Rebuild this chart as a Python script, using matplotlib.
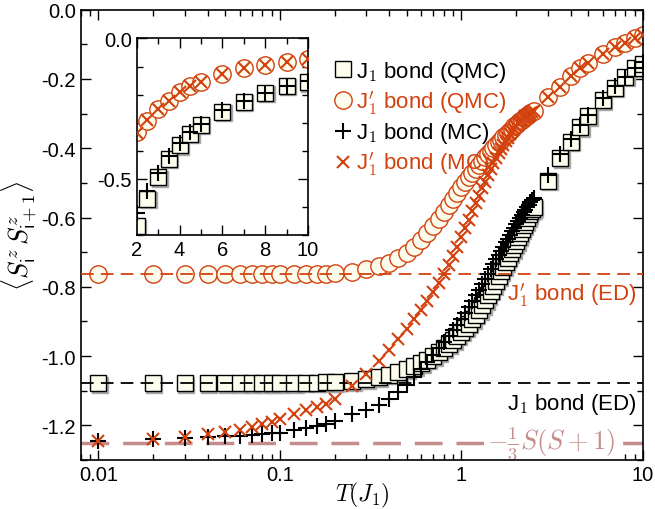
import numpy as np
import matplotlib.pyplot as plt
from matplotlib.transforms import offset_copy
from matplotlib.ticker import MultipleLocator, FixedLocator, FixedFormatter, NullFormatter, LogLocator

plt.rcParams['font.family'] = ['Liberation Sans', 'DejaVu Sans']
plt.rcParams['mathtext.fontset'] = 'cm'
plt.rcParams['axes.unicode_minus'] = False

# temperatures (same grid for QMC and MC)
T = [0.01, 0.02, 0.03, 0.04, 0.05, 0.06, 0.07, 0.08, 0.09, 0.10,
     0.12, 0.14, 0.16, 0.18, 0.20,
     0.25, 0.30, 0.35, 0.40, 0.45, 0.50, 0.55, 0.60, 0.65, 0.70,
     0.75, 0.80, 0.85, 0.90, 0.95, 1.00, 1.05, 1.10, 1.15, 1.20,
     1.25, 1.30, 1.35, 1.40, 1.45, 1.50, 1.55, 1.60, 1.65, 1.70,
     1.75, 1.80, 1.85, 1.90, 1.95, 2.00, 2.05, 2.10, 2.15, 2.20,
     2.25, 2.30, 2.35, 2.40, 2.45, 2.50,
     3.0, 3.5, 4.0, 4.5, 5.0, 6.0, 7.0, 8.0, 9.0, 10.0]

# J1 bond, QMC (squares)
j1_qmc = [-1.078, -1.078, -1.078, -1.078, -1.078, -1.078, -1.078, -1.078, -1.078, -1.078,
          -1.078, -1.077, -1.077, -1.076, -1.075,
          -1.072, -1.067, -1.061, -1.054, -1.046, -1.038, -1.029, -1.020, -1.010, -1.000,
          -0.989, -0.978, -0.966, -0.954, -0.942, -0.930, -0.918, -0.906, -0.893, -0.880,
          -0.867, -0.853, -0.839, -0.825, -0.811, -0.797, -0.783, -0.769, -0.755, -0.742,
          -0.729, -0.716, -0.703, -0.691, -0.679, -0.668, -0.656, -0.645, -0.634, -0.623,
          -0.612, -0.601, -0.591, -0.581, -0.576, -0.571,
          -0.494, -0.429, -0.381, -0.340, -0.308, -0.261, -0.225, -0.194, -0.168, -0.156]

# J1' bond, QMC (circles)
j1p_qmc = [-0.764, -0.764, -0.764, -0.764, -0.764, -0.764, -0.764, -0.764, -0.764, -0.764,
           -0.764, -0.763, -0.763, -0.762, -0.761,
           -0.757, -0.750, -0.741, -0.730, -0.716, -0.701, -0.685, -0.665, -0.645, -0.625,
           -0.604, -0.584, -0.564, -0.546, -0.529, -0.513, -0.498, -0.484, -0.471, -0.459,
           -0.447, -0.436, -0.426, -0.416, -0.407, -0.398, -0.390, -0.382, -0.375, -0.368,
           -0.361, -0.355, -0.349, -0.343, -0.337, -0.332, -0.327, -0.322, -0.318, -0.314,
           -0.310, -0.306, -0.302, -0.299, -0.296, -0.293,
           -0.251, -0.222, -0.192, -0.168, -0.154, -0.127, -0.107, -0.095, -0.083, -0.073]

# J1 bond, classical MC (plus)
j1_mc = [-1.245, -1.240, -1.237, -1.235, -1.232, -1.230, -1.228, -1.226, -1.223, -1.221,
         -1.214, -1.208, -1.202, -1.195, -1.188,
         -1.168, -1.157, -1.142, -1.124, -1.104, -1.083, -1.060, -1.037, -1.016, -0.996,
         -0.977, -0.960, -0.943, -0.926, -0.909, -0.892, -0.875, -0.858, -0.841, -0.825,
         -0.809, -0.793, -0.778, -0.763, -0.749, -0.735, -0.721, -0.708, -0.696, -0.684,
         -0.672, -0.661, -0.650, -0.640, -0.630, -0.620, -0.611, -0.602, -0.593, -0.585,
         -0.577, -0.570, -0.563, -0.556, -0.549, -0.543,
         -0.478, -0.418, -0.372, -0.333, -0.303, -0.255, -0.221, -0.193, -0.168, -0.150]

# J1' bond, classical MC (crosses)
j1p_mc = [-1.245, -1.238, -1.233, -1.226, -1.218, -1.212, -1.204, -1.197, -1.190, -1.183,
          -1.168, -1.157, -1.147, -1.137, -1.124,
          -1.087, -1.052, -1.015, -0.982, -0.952, -0.923, -0.894, -0.866, -0.840, -0.815,
          -0.790, -0.764, -0.738, -0.711, -0.684, -0.657, -0.631, -0.606, -0.582, -0.559,
          -0.537, -0.516, -0.496, -0.477, -0.460, -0.444, -0.429, -0.415, -0.402, -0.390,
          -0.379, -0.369, -0.360, -0.351, -0.343, -0.335, -0.328, -0.322, -0.317, -0.312,
          -0.308, -0.304, -0.300, -0.297, -0.294, -0.291,
          -0.251, -0.222, -0.192, -0.168, -0.154, -0.127, -0.107, -0.095, -0.083, -0.073]

# exact diagonalisation ground state values and classical limit
ed_j1 = -1.078
ed_j1p = -0.764
classical = -1.25

# temperatures shown in the inset
T_inset = [2.0, 2.5, 3.0, 3.5, 4.0, 4.5, 5.0, 6.0, 7.0, 8.0, 9.0, 10.0]

orange = '#d2410e'
cream = '#fdfdee'
pink = '#c58c8c'

fig = plt.figure(figsize=(6.55, 5.10), dpi=100)
ax = fig.add_axes([0.1232, 0.0961, 0.8585, 0.8829])

T_arr = np.array(T)
sets = [
    (np.array(j1_qmc), dict(marker='s', ms=11, mfc=cream, mec='black', mew=1.0, zorder=2),
     r'J$_\mathsf{1}$ bond (QMC)', 'black'),
    (np.array(j1p_qmc), dict(marker='o', ms=12.5, mfc=cream, mec=orange, mew=1.0, zorder=2),
     r"J$^{\prime}_\mathsf{1}$ bond (QMC)", orange),
    (np.array(j1_mc), dict(marker='+', ms=11, mec='black', mew=1.5, zorder=4),
     r'J$_\mathsf{1}$ bond (MC)', 'black'),
    (np.array(j1p_mc), dict(marker='x', ms=8, mec=orange, mew=1.5, zorder=4),
     r"J$^{\prime}_\mathsf{1}$ bond (MC)", orange),
]


def draw(a, x, idx=slice(None)):
    # grey drop shadow under the squares
    shadow = offset_copy(a.transData, fig=fig, x=1.5, y=-1.5, units='dots')
    a.plot(x, sets[0][0][idx], ls='none', marker='s', ms=11, mfc='#a8a8a8', mec='#a8a8a8',
           mew=1.0, zorder=1.9, transform=shadow)
    for vals, style, lab, col in sets:
        a.plot(x, vals[idx], ls='none', label=lab, **style)


draw(ax, T_arr)

ax.axhline(ed_j1, color='black', ls=(0, (7, 4)), lw=1.3, zorder=3)
ax.axhline(ed_j1p, color=orange, ls=(0, (7, 4)), lw=1.3, zorder=3)
ax.axhline(classical, color=pink, ls=(0, (8, 4)), lw=2.5, zorder=1)

ax.set_xscale('log')
ax.set_xlim(0.008, 10)
ax.set_ylim(-1.3, 0.0)
ax.xaxis.set_major_locator(FixedLocator([0.01, 0.1, 1, 10]))
ax.xaxis.set_major_formatter(FixedFormatter(['0.01', '0.1', '1', '10']))
ax.xaxis.set_minor_locator(LogLocator(base=10, subs=np.arange(2, 10)))
ax.xaxis.set_minor_formatter(NullFormatter())
ax.yaxis.set_major_locator(MultipleLocator(0.2))
ax.yaxis.set_minor_locator(MultipleLocator(0.1))
ax.yaxis.set_major_formatter(plt.FuncFormatter(lambda v, p: f'{v:.1f}' if abs(v) > 1e-9 else '0.0'))
ax.tick_params(which='both', direction='in', top=True, right=True, labelsize=14.5, width=1.0)
ax.tick_params(which='major', length=7)
ax.tick_params(which='minor', length=4)
for s in ax.spines.values():
    s.set_linewidth(1.2)

ax.set_xlabel(r'$T(J_1)$', fontsize=17, labelpad=-3)
ax.set_ylabel(r'$\langle S^z_\mathsf{i}\, S^z_\mathsf{i+1}\rangle$', fontsize=19, labelpad=2)

ax.text(0.989, ed_j1p - 0.058, r"J$^{\prime}_\mathsf{1}$ bond (ED)", color=orange, fontsize=16,
        ha='right', va='center', transform=ax.get_yaxis_transform())
ax.text(0.989, ed_j1 - 0.058, r'J$_\mathsf{1}$ bond (ED)', color='black', fontsize=16,
        ha='right', va='center', transform=ax.get_yaxis_transform())
ax.text(3.1, classical, r'$-\frac{1}{3}S(S+1)$', color=pink, fontsize=19, ha='center', va='center',
        bbox=dict(facecolor='white', edgecolor='none', pad=2), zorder=2)

handles, labels = ax.get_legend_handles_labels()
leg = ax.legend(handles, labels, loc='upper left', bbox_to_anchor=(0.435, 0.91),
                frameon=False, fontsize=16, handlelength=0.8, handletextpad=0.2,
                labelspacing=0.2, borderaxespad=0, labelcolor=[s[3] for s in sets])

# inset
axin = fig.add_axes([0.2087, 0.537, 0.2615, 0.3857])
sel = np.isin(T_arr, T_inset)
draw(axin, T_arr[sel], sel)
axin.set_xlim(2, 10)
axin.set_ylim(-0.7, 0.0)
axin.xaxis.set_major_locator(MultipleLocator(2))
axin.xaxis.set_minor_locator(MultipleLocator(1))
axin.yaxis.set_major_locator(MultipleLocator(0.5))
axin.yaxis.set_minor_locator(MultipleLocator(0.1))
axin.yaxis.set_major_formatter(plt.FuncFormatter(lambda v, p: f'{v:.1f}' if abs(v) > 1e-9 else '0.0'))
axin.tick_params(which='both', direction='in', top=True, right=True, labelsize=14.5, width=1.0)
axin.tick_params(which='major', length=7)
axin.tick_params(which='minor', length=4)
for s in axin.spines.values():
    s.set_linewidth(1.2)

fig.savefig('out.png', dpi=100)
